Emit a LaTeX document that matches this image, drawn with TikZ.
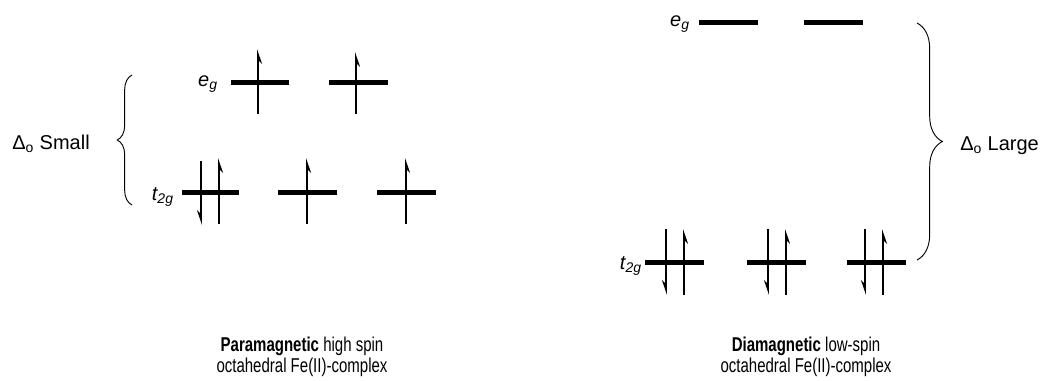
\documentclass[tikz,border=0pt]{standalone}
\usepackage{fontspec}
\setmainfont{Liberation Sans}
\newfontfamily\narrowfont{Liberation Sans}[FakeStretch=0.75]
\usetikzlibrary{arrows.meta, decorations.pathreplacing}
\tikzstyle{level} = [line width=3.75pt]
\tikzstyle{spin} = [line width=1.4pt, -{Stealth[harpoon,swap,length=9pt,width=6pt]}]
\tikzstyle{gap} = [decorate, decoration={brace, amplitude=#1}, line width=0.7pt]
\tikzstyle{lab} = [inner sep=0pt, anchor=base east, font=\itshape\fontsize{15}{18}\selectfont]
\tikzstyle{caption} = [align=center, font=\narrowfont\fontsize{15}{15.75}\selectfont]

\begin{document}
\begin{tikzpicture}[x=0.75pt, y=-0.75pt, font=\fontsize{15}{18}\selectfont]
\useasboundingbox (0,0) rectangle (1042,381);

% high spin
\foreach \a/\b in {231/289, 329/388} \draw[level] (\a,83) -- (\b,83);
\foreach \a/\b in {182/239, 278/337, 377/436} \draw[level] (\a,193) -- (\b,193);
\draw[spin] (258,114) -- (258,49);
\draw[spin] (356,114) -- (356,52);
\draw[spin] (201,161) -- (201,225);
\foreach \x in {219,307,406} \draw[spin] (\x,224) -- (\x,158);
\node[lab] (egA) at (218,87) {e\textsubscript{g}};
\node[lab] (tgA) at (174,200) {t\textsubscript{2g}};
\draw[gap=11pt] (132,205) -- (132,75);
\node[inner sep=0pt, anchor=base east] (small) at (90,150) {Δ\textsubscript{o} Small};
\node[caption] (capA) at (302,357) {\textbf{Paramagnetic} high spin\\octahedral Fe(II)-complex};

% low spin
\foreach \a/\b in {699/758, 804/863} \draw[level] (\a,23) -- (\b,23);
\foreach \a/\b in {645/704, 747/806, 847/906} \draw[level] (\a,262) -- (\b,262);
\foreach \x in {666,768,865} \draw[spin] (\x,229) -- (\x,295);
\foreach \x in {684,786,883} \draw[spin] (\x,295) -- (\x,229);
\node[lab] (egB) at (690,27) {e\textsubscript{g}};
\node[lab] (tgB) at (642,269) {t\textsubscript{2g}};
\draw[gap=19pt] (917,23) -- (917,260);
\node[inner sep=0pt, anchor=base west] (large) at (960,151) {Δ\textsubscript{o} Large};
\node[caption] (capB) at (806,357) {\textbf{Diamagnetic} low-spin\\octahedral Fe(II)-complex};
\end{tikzpicture}
\end{document}
